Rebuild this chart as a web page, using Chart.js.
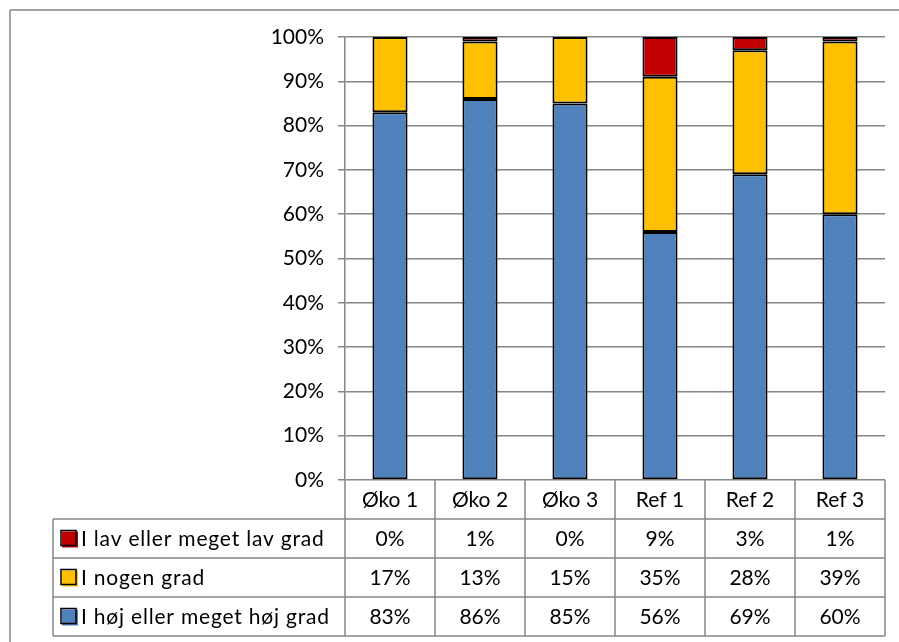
<!DOCTYPE html>
<html>
<head>
<meta charset="utf-8">
<script src="https://cdn.jsdelivr.net/npm/chart.js@4"></script>
<style>
  html, body { margin: 0; padding: 0; background: #fff; }
  #wrap { width: 899px; height: 642px; position: relative; }
</style>
</head>
<body>
<div id="wrap"><canvas id="chart" width="899" height="642"></canvas></div>
<script>
const categories = ["Øko 1", "Øko 2", "Øko 3", "Ref 1", "Ref 2", "Ref 3"];
const lavGrad = [0, 1, 0, 9, 3, 1];
const nogenGrad = [17, 13, 15, 35, 28, 39];
const hojGrad = [83, 86, 85, 56, 69, 60];
const yTicks = [0, 10, 20, 30, 40, 50, 60, 70, 80, 90, 100];

const FONT = "Lato, 'Open Sans', sans-serif";
const LINE = "#868686";

// table rows, top to bottom as in the picture
const tableRows = [
  { label: "I lav eller meget lav grad", values: lavGrad, color: "#C00000" },
  { label: "I nogen grad", values: nogenGrad, color: "#FFC000" },
  { label: "I høj eller meget høj grad", values: hojGrad, color: "#4F81BD" }
];

const tablePlugin = {
  id: "dataTable",
  afterDraw(chart) {
    const ctx = chart.ctx;
    const area = chart.chartArea;
    const xs = chart.scales.x;
    const half = (xs.getPixelForValue(1) - xs.getPixelForValue(0)) / 2;
    const tableLeft = 53;
    const rowH = 39;
    const top = area.bottom;
    const rowsTop = top + rowH;
    const bottom = rowsTop + rowH * tableRows.length;

    ctx.save();
    ctx.strokeStyle = LINE;
    ctx.lineWidth = 1.5;
    ctx.beginPath();
    // outer frame (top and left)
    ctx.moveTo(10, 10); ctx.lineTo(899, 10);
    ctx.moveTo(10, 10); ctx.lineTo(10, 642);
    // horizontal table lines
    for (let r = 0; r <= tableRows.length; r++) {
      const y = rowsTop + r * rowH;
      ctx.moveTo(tableLeft, y); ctx.lineTo(area.right, y);
    }
    // vertical table lines
    ctx.moveTo(tableLeft, rowsTop); ctx.lineTo(tableLeft, bottom);
    for (let i = 0; i <= categories.length; i++) {
      const x = i < categories.length ? xs.getPixelForValue(i) - half : xs.getPixelForValue(i - 1) + half;
      ctx.moveTo(x, top); ctx.lineTo(x, bottom);
    }
    ctx.stroke();

    ctx.fillStyle = "#000";
    ctx.font = "21px " + FONT;
    ctx.textBaseline = "middle";
    ctx.textAlign = "center";
    categories.forEach((c, i) => {
      ctx.fillText(c, xs.getPixelForValue(i), top + rowH / 2 + 1);
    });
    tableRows.forEach((row, r) => {
      const cy = rowsTop + r * rowH + rowH / 2 + 1;
      ctx.textAlign = "center";
      ctx.fillStyle = "#000";
      ctx.letterSpacing = "0px";
      row.values.forEach((v, i) => {
        ctx.fillText(v + "%", xs.getPixelForValue(i), cy);
      });
      // legend key
      ctx.fillStyle = row.color;
      ctx.fillRect(62, cy - 8, 16, 16);
      ctx.strokeStyle = "#000";
      ctx.lineWidth = 1.5;
      ctx.strokeRect(61, cy - 9, 15, 15);
      ctx.fillStyle = "#000";
      ctx.textAlign = "left";
      ctx.letterSpacing = "0.8px";
      ctx.fillText(row.label, 81, cy);
    });
    ctx.restore();
  }
};

new Chart(document.getElementById("chart"), {
  type: "bar",
  data: {
    labels: categories,
    datasets: [
      { label: "I høj eller meget høj grad", data: hojGrad, backgroundColor: "#4F81BD" },
      { label: "I nogen grad", data: nogenGrad, backgroundColor: "#FFC000" },
      { label: "I lav eller meget lav grad", data: lavGrad, backgroundColor: "#C00000" }
    ].map(d => Object.assign(d, {
      borderColor: "#000",
      borderWidth: 2,
      borderSkipped: false,
      barPercentage: 0.39,
      categoryPercentage: 1
    }))
  },
  options: {
    responsive: false,
    animation: false,
    layout: { padding: { top: 37, right: 14, bottom: 162, left: 0 } },
    plugins: { legend: { display: false }, tooltip: { enabled: false } },
    scales: {
      x: { stacked: true, display: false },
      y: {
        stacked: true,
        min: 0,
        max: 100,
        afterBuildTicks(scale) { scale.ticks = yTicks.map(v => ({ value: v })); },
        afterFit(scale) { scale.width = 345; },
        ticks: {
          callback: v => v + "%",
          color: "#000",
          font: { family: FONT, size: 21 },
          padding: 14
        },
        grid: { color: LINE, lineWidth: 1.5, tickLength: 7 },
        border: { color: LINE, width: 1.5 }
      }
    }
  },
  plugins: [tablePlugin]
});
</script>
</body>
</html>
